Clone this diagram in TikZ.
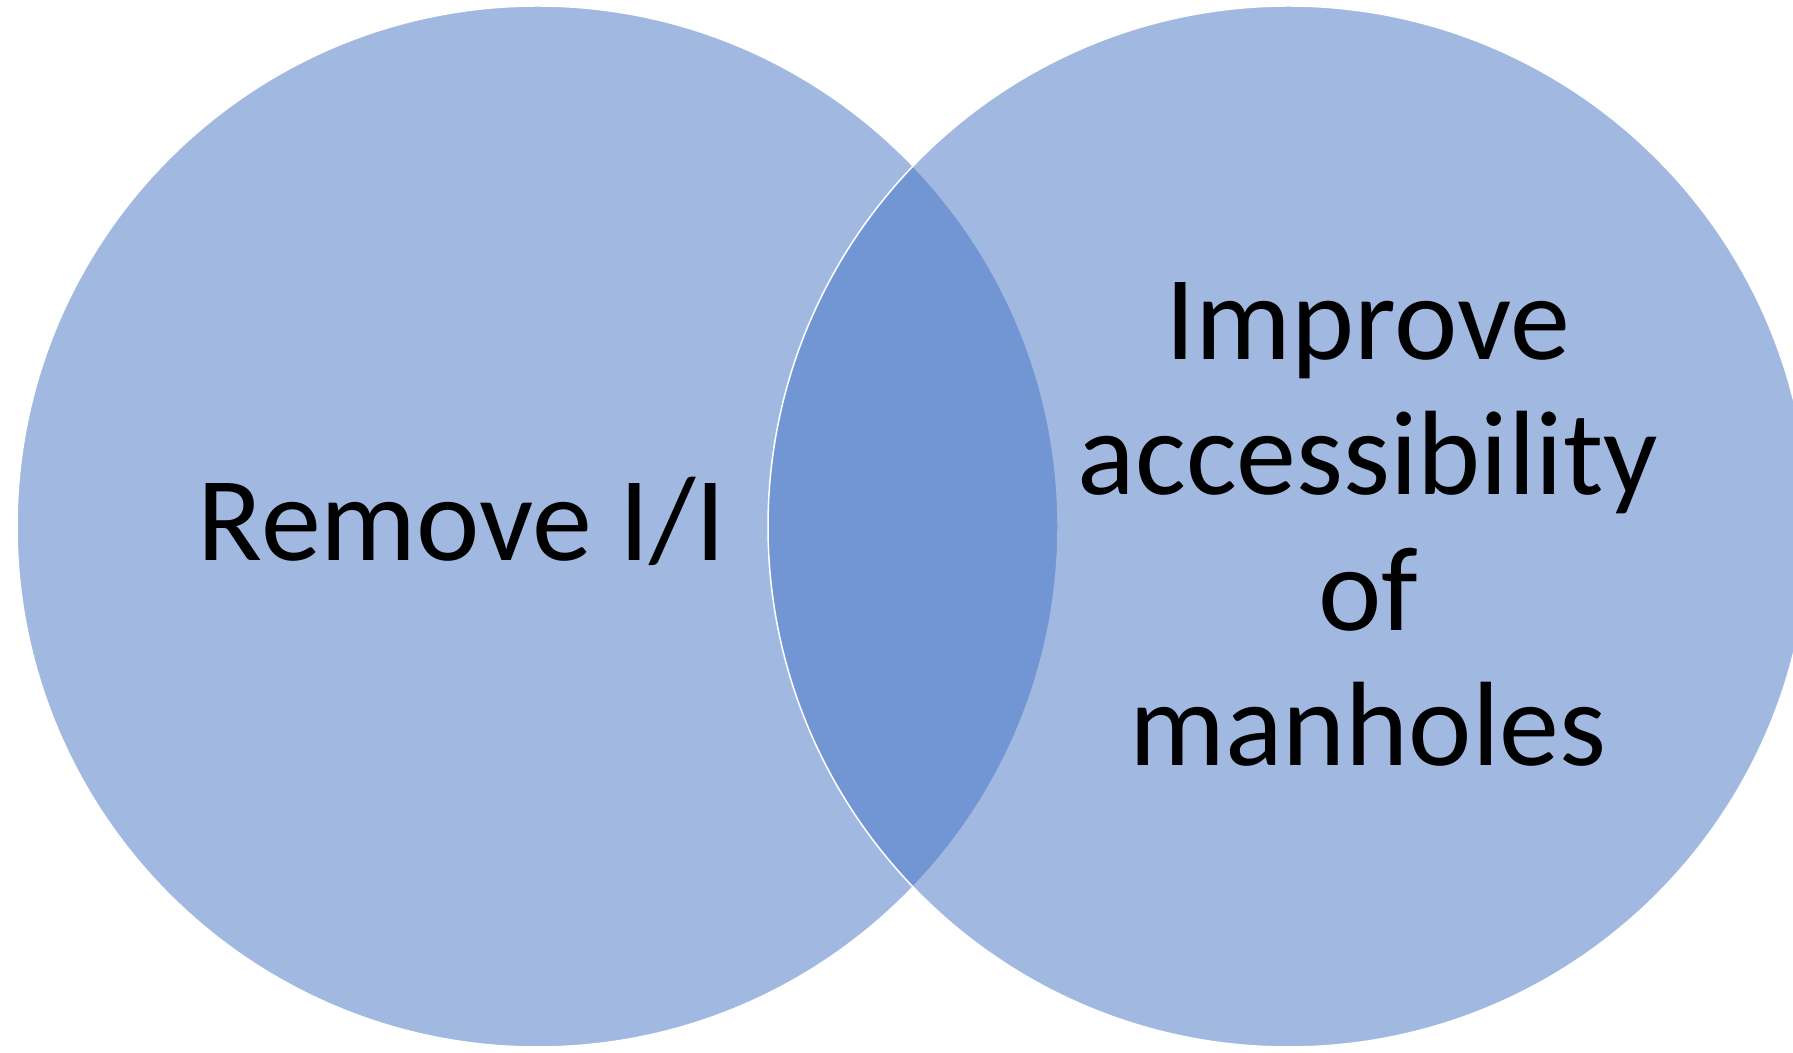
\documentclass[tikz,border=0pt]{standalone}
\usepackage{fontspec}
\setmainfont{Carlito}
\definecolor{vennblue}{HTML}{4472C4}
\begin{document}
\begin{tikzpicture}[x=1pt,y=1pt,
  venn/.style={circle,minimum size=1041pt,inner sep=0pt,fill=vennblue,fill opacity=0.5,draw=white,draw opacity=1,line width=1.5pt},
  lbl/.style={font=\fontsize{120}{135.5}\selectfont,text=black,align=center,inner sep=0pt}]
\useasboundingbox (0,0) rectangle (1793,1052);
\clip (0,0) rectangle (1793,1052);
\node[venn] (left) at (537.5,525.5) {};
\node[venn] (right) at (1288.5,525.5) {};
\node[lbl,anchor=base] (ltext) at (462,491) {Remove I/I};
\node[lbl,anchor=center] (rtext) at (1368,527.5) {Improve\\accessibility\\of\\manholes};
\end{tikzpicture}
\end{document}
